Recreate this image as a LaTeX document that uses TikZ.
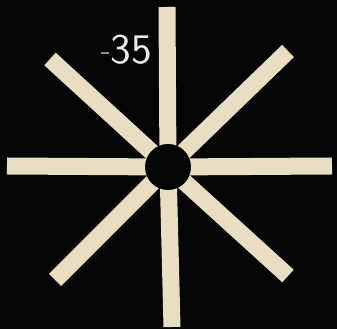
\documentclass[tikz,border=0pt]{standalone}
\usepackage{tikz}
\definecolor{bone}{RGB}{232,222,196}
\definecolor{ink}{RGB}{5,5,5}

\begin{document}
\begin{tikzpicture}[
    x=0.1mm, y=-0.1mm,
    spoke/.style={draw=bone, line width=1.7mm, line cap=butt},
    lbl/.style={text=white!92!black, font=\sffamily\large, inner sep=0pt},
]
    % Background
    \fill[ink] (0,0) rectangle (337,329);
    \useasboundingbox (0,0) rectangle (337,329);

    % Hub
    \coordinate (hub) at (168,167);

    % Spokes
    \foreach \ex/\ey in {167/7, 172/327, 7/166, 332/166, 50/59, 288/51, 55/280, 288/276}
        \draw[spoke] (hub) -- (\ex,\ey);

    % Centre disc
    \fill[ink] (hub) circle[radius=23];

    % Label
    \node[lbl] (num) at (131,50) {35};
    \draw[white!55!black, line width=0.2mm] (num.west) ++(-1,3) -- ++(-8,0);
\end{tikzpicture}
\end{document}
